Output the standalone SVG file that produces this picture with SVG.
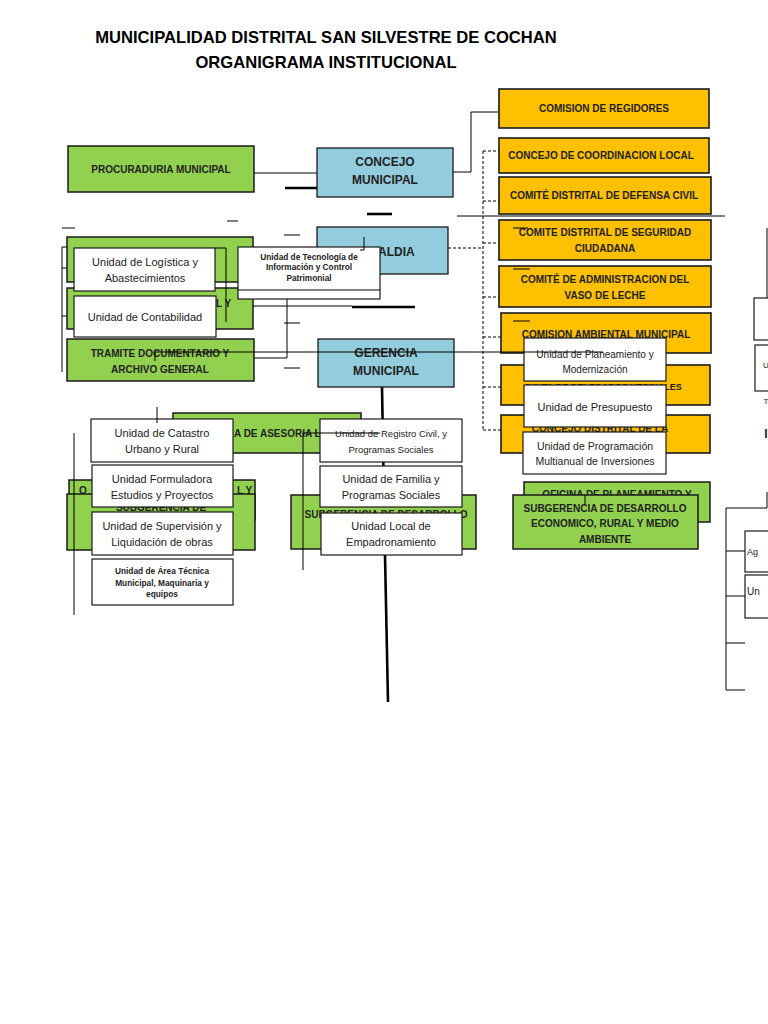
<svg xmlns="http://www.w3.org/2000/svg" width="768" height="1024" viewBox="0 0 768 1024">
<style>
.g{fill:#92D050;stroke:#1a1a1a;stroke-width:1.5}
.o{fill:#FFC000;stroke:#1a1a1a;stroke-width:1.6}
.b{fill:#93CDDD;stroke:#1a1a1a;stroke-width:1.3}
.w{fill:#fff;stroke:#1a1a1a;stroke-width:1.2}
.t{font-family:"Liberation Sans",Arial,sans-serif;font-weight:bold;font-size:10px;text-anchor:middle;fill:#222}
.bt{font-family:"Liberation Sans",Arial,sans-serif;font-weight:bold;font-size:12px;text-anchor:middle;fill:#222}
.u{font-family:"Liberation Sans",Arial,sans-serif;font-size:11px;text-anchor:middle;fill:#222}
.s{font-family:"Liberation Sans",Arial,sans-serif;font-weight:bold;font-size:8.3px;text-anchor:middle;fill:#222}
.ti{font-family:"Liberation Sans",Arial,sans-serif;font-weight:bold;font-size:16.6px;text-anchor:middle;fill:#000}
.ln{stroke:#000;stroke-width:1;fill:none}
.th{stroke:#000;stroke-width:2.6;fill:none}
.d{stroke:#000;stroke-width:1;stroke-dasharray:3,2;fill:none}
</style>
<rect width="768" height="1024" fill="#fff"/>
<g id="title">
<text class="ti" x="326" y="43">MUNICIPALIDAD DISTRITAL SAN SILVESTRE DE COCHAN</text>
<text class="ti" x="326" y="68">ORGANIGRAMA INSTITUCIONAL</text>
</g>
<g id="connectors">
<line class="ln" x1="254" y1="173" x2="317" y2="173"/>
<polyline class="ln" points="453,172 471,172 471,112 499,112"/>
<line class="d" x1="483" y1="151" x2="483" y2="430"/>
<line class="d" x1="483" y1="151" x2="499" y2="151"/>
<line class="d" x1="483" y1="201" x2="499" y2="201"/>
<line class="d" x1="483" y1="243" x2="499" y2="243"/>
<line class="d" x1="483" y1="297" x2="499" y2="297"/>
<line class="d" x1="483" y1="337" x2="501" y2="337"/>
<line class="d" x1="483" y1="387" x2="501" y2="387"/>
<line class="d" x1="483" y1="430" x2="501" y2="430"/>
<line class="d" x1="448" y1="248" x2="483" y2="248"/>
<path class="th" d="M382,387 L385,555 L388,702"/>
<line class="ln" x1="62" y1="247" x2="62" y2="372"/>
<line class="ln" x1="62" y1="247" x2="74" y2="247"/>
<line class="ln" x1="62" y1="268" x2="74" y2="268"/>
<line class="ln" x1="62" y1="316" x2="74" y2="316"/>
<line class="ln" x1="215" y1="267" x2="238" y2="267"/>
<line class="ln" x1="253" y1="306" x2="352" y2="306"/>
<line class="th" x1="352" y1="307" x2="415" y2="307"/>
<polyline class="ln" points="287,299 287,358 254,358"/>
<line class="th" x1="285" y1="188" x2="367" y2="188"/>
<line class="th" x1="367" y1="214" x2="392" y2="214"/>
<line class="ln" x1="457" y1="216" x2="725" y2="216"/>
<line class="ln" x1="62" y1="228" x2="75" y2="228"/>
<line class="ln" x1="227" y1="221" x2="238" y2="221"/>
<line class="ln" x1="284" y1="235" x2="300" y2="235"/>
<line class="ln" x1="284" y1="323" x2="300" y2="323"/>
<line class="ln" x1="284" y1="368" x2="300" y2="368"/>
<line class="ln" x1="767" y1="228" x2="767" y2="298"/>
<polyline class="ln" points="767,492 767,508 726,508 726,690 745,690"/>
<line class="ln" x1="726" y1="551" x2="745" y2="551"/>
<line class="ln" x1="726" y1="596" x2="745" y2="596"/>
<line class="ln" x1="726" y1="643" x2="745" y2="643"/>
</g>
<g id="procuraduria"><rect class="g" x="68" y="146" width="186" height="46"/><text class="t" x="161" y="173">PROCURADURIA MUNICIPAL</text></g>
<g id="concejo-municipal"><rect class="b" x="317" y="148" width="136" height="49"/><text class="bt" x="385" y="166">CONCEJO</text><text class="bt" x="385" y="184">MUNICIPAL</text></g>
<g id="alcaldia"><rect class="b" x="317" y="227" width="131" height="47"/><text class="bt" x="384" y="256">ALCALDIA</text></g>
<g id="gerencia"><rect class="b" x="318" y="339" width="136" height="48"/><text class="bt" x="386" y="357">GERENCIA</text><text class="bt" x="386" y="375">MUNICIPAL</text></g>
<g id="comision-regidores"><rect class="o" x="499" y="89" width="210" height="39"/><text class="t" x="604" y="112">COMISION DE REGIDORES</text></g>
<g id="coordinacion-local"><rect class="o" x="499" y="138" width="210" height="35"/><text class="t" x="601" y="159">CONCEJO DE COORDINACION LOCAL</text></g>
<g id="defensa-civil"><rect class="o" x="499" y="177" width="212" height="37"/><text class="t" x="604" y="199">COMITÉ DISTRITAL DE DEFENSA CIVIL</text></g>
<g id="seguridad-ciudadana"><rect class="o" x="499" y="220" width="212" height="40"/><text class="t" x="605" y="236">COMITE DISTRITAL DE SEGURIDAD</text><text class="t" x="605" y="252">CIUDADANA</text></g>
<g id="vaso-leche"><rect class="o" x="499" y="266" width="212" height="41"/><text class="t" x="605" y="283">COMITÉ DE ADMINISTRACION DEL</text><text class="t" x="605" y="299">VASO DE LECHE</text></g>
<g id="comision-ambiental"><rect class="o" x="501" y="313" width="210" height="40"/><text class="t" x="606" y="338">COMISION AMBIENTAL MUNICIPAL</text></g>
<g id="junta-vecinales"><rect class="o" x="501" y="365" width="209" height="40"/><text class="t" x="603" y="390" style="font-size:9px">JUNTA DE DELEGADOS VECINALES</text></g>
<g id="concejo-distrital-la"><rect class="o" x="501" y="415" width="209" height="38"/><text class="t" x="600" y="432">CONCEJO DISTRITAL DE LA</text></g>
<g id="green-a"><rect class="g" x="67" y="237" width="186" height="45"/></g>
<g id="green-b"><rect class="g" x="67" y="288" width="186" height="41"/><text class="t" x="216" y="307" style="text-anchor:start">L Y</text></g>
<g id="tramite"><rect class="g" x="67" y="339" width="187" height="42"/><text class="t" x="160" y="357">TRAMITE DOCUMENTARIO Y</text><text class="t" x="160" y="373">ARCHIVO GENERAL</text></g>
<g id="asesoria-legal"><rect class="g" x="173" y="413" width="188" height="40"/><text class="t" x="234" y="437" style="text-anchor:start">A DE ASESORIA LE</text></g>
<g id="green-c"><rect class="g" x="69" y="480" width="186" height="40"/><text class="t" x="79" y="494" style="text-anchor:start">O</text><text class="t" x="237" y="494" style="text-anchor:start">L Y</text></g>
<g id="green-d"><rect class="g" x="67" y="494" width="188" height="56"/><text class="t" x="161" y="511">SUBGERENCIA DE</text></g>
<g id="subgerencia-social"><rect class="g" x="291" y="495" width="185" height="54"/><text class="t" x="386" y="518">SUBGERENCIA DE DESARROLLO</text></g>
<g id="oficina-planeamiento"><rect class="g" x="524" y="482" width="186" height="40"/><text class="t" x="617" y="498">OFICINA DE PLANEAMIENTO Y</text></g>
<g id="subgerencia-economico"><rect class="g" x="513" y="495" width="185" height="54"/><text class="t" x="605" y="512">SUBGERENCIA DE DESARROLLO</text><text class="t" x="605" y="527">ECONOMICO, RURAL Y MEDIO</text><text class="t" x="605" y="543">AMBIENTE</text></g>
<g id="logistica"><rect class="w" x="74" y="248" width="141" height="43"/><text class="u" x="145" y="266">Unidad de Logística y</text><text class="u" x="145" y="282">Abastecimientos</text></g>
<g id="contabilidad"><rect class="w" x="74" y="296" width="142" height="41"/><text class="u" x="145" y="321">Unidad de Contabilidad</text></g>
<g id="tecnologia"><rect class="w" x="238" y="247" width="142" height="52"/><line class="ln" x1="238" y1="290" x2="380" y2="290"/><text class="s" x="309" y="260">Unidad de Tecnología de</text><text class="s" x="309" y="270">Información y Control</text><text class="s" x="309" y="281">Patrimonial</text></g>
<g id="catastro"><rect class="w" x="91" y="419" width="142" height="43"/><text class="u" x="162" y="437">Unidad de Catastro</text><text class="u" x="162" y="453">Urbano y Rural</text></g>
<g id="formuladora"><rect class="w" x="92" y="465" width="141" height="42"/><text class="u" x="162" y="483">Unidad Formuladora</text><text class="u" x="162" y="499">Estudios y Proyectos</text></g>
<g id="supervision"><rect class="w" x="92" y="512" width="141" height="43"/><text class="u" x="162" y="530">Unidad de Supervisión y</text><text class="u" x="162" y="546">Liquidación de obras</text></g>
<g id="area-tecnica"><rect class="w" x="92" y="559" width="141" height="46"/><text class="s" x="162" y="574">Unidad de Área Técnica</text><text class="s" x="162" y="586">Municipal, Maquinaria y</text><text class="s" x="162" y="597">equipos</text></g>
<g id="registro-civil"><rect class="w" x="320" y="419" width="142" height="43"/><text class="u" x="391" y="437" style="font-size:9.5px">Unidad de Registro Civil, y</text><text class="u" x="391" y="453" style="font-size:9.5px">Programas Sociales</text></g>
<g id="familia"><rect class="w" x="320" y="466" width="142" height="41"/><text class="u" x="391" y="483">Unidad de Familia y</text><text class="u" x="391" y="499">Programas Sociales</text></g>
<g id="empadronamiento"><rect class="w" x="321" y="513" width="141" height="42"/><text class="u" x="391" y="530">Unidad Local de</text><text class="u" x="391" y="546">Empadronamiento</text></g>
<g id="planeamiento"><rect class="w" x="524" y="338" width="142" height="43"/><text class="u" x="595" y="358" style="font-size:10px">Unidad de Planeamiento y</text><text class="u" x="595" y="373" style="font-size:10px">Modernización</text></g>
<g id="presupuesto"><rect class="w" x="524" y="385" width="142" height="42"/><text class="u" x="595" y="411">Unidad de Presupuesto</text></g>
<g id="programacion"><rect class="w" x="523" y="432" width="143" height="42"/><text class="u" x="595" y="450" style="font-size:10.5px">Unidad de Programación</text><text class="u" x="595" y="465" style="font-size:10.5px">Multianual de Inversiones</text></g>
<g id="right-box-1"><rect class="w" x="754" y="298" width="20" height="42"/></g>
<g id="right-box-2"><rect class="w" x="755" y="345" width="20" height="46"/><text class="u" x="766" y="368" style="font-size:8px">U</text></g>
<g id="right-fragments"><text class="u" x="766" y="404" style="font-size:8px">T</text><text class="bt" x="766" y="438">I</text></g>
<g id="right-ag"><rect class="w" x="745" y="531" width="30" height="41"/><text class="u" x="747" y="555" style="font-size:9px;text-anchor:start">Ag</text></g>
<g id="right-un"><rect class="w" x="745" y="575" width="30" height="43"/><text class="u" x="747" y="595" style="font-size:10px;text-anchor:start">Un</text></g>
<g id="connectors-over">
<line class="ln" x1="155" y1="352" x2="603" y2="352"/>
<line class="ln" x1="155" y1="352" x2="155" y2="361"/>
<line class="ln" x1="303" y1="433" x2="380" y2="433"/>
<line class="ln" x1="303" y1="433" x2="303" y2="570"/>
<line class="ln" x1="74" y1="433" x2="74" y2="615"/>
<line class="ln" x1="157" y1="407" x2="157" y2="423"/>
<line class="ln" x1="585" y1="495" x2="585" y2="505"/>
<polyline class="ln" points="215,248 226,248 226,322"/>
<path class="ln" d="M364,237 L364,250 L360,250"/>
<line class="ln" x1="513" y1="228" x2="528" y2="228"/>
<line class="ln" x1="513" y1="269" x2="530" y2="269"/>
<line class="ln" x1="513" y1="321" x2="530" y2="321"/>
</g>
</svg>
